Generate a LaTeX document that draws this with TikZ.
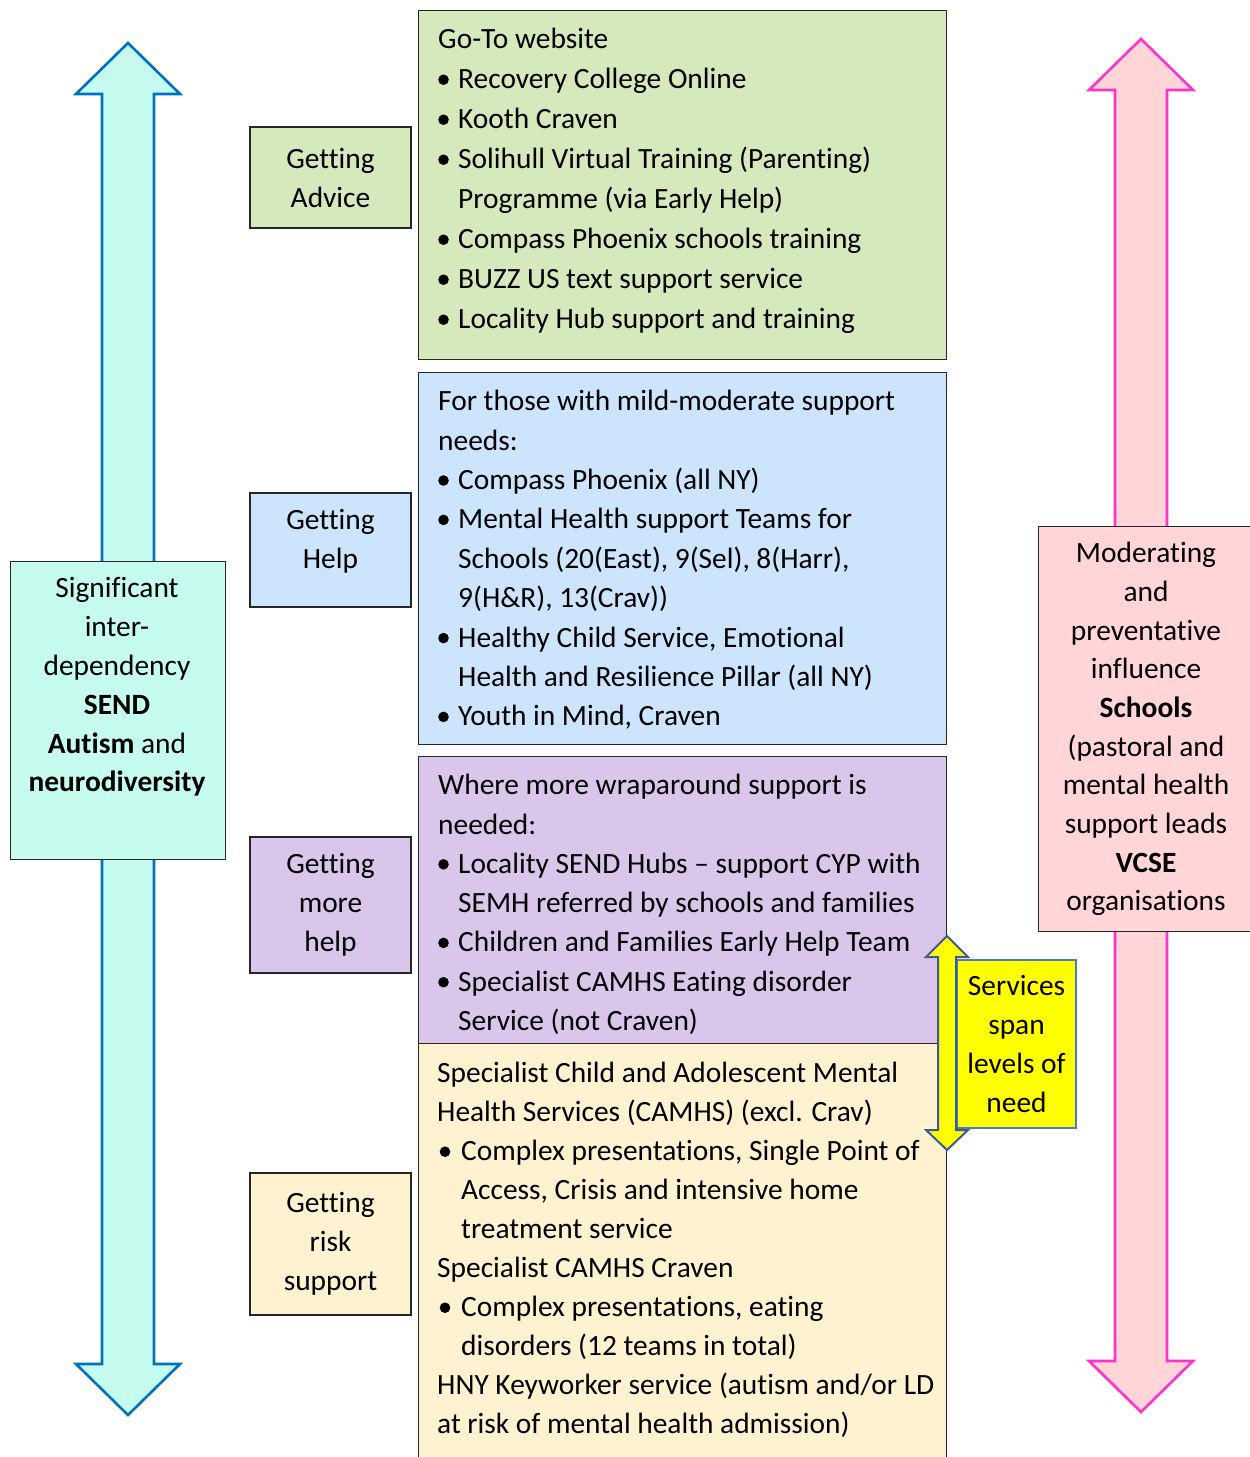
\documentclass[tikz,border=0pt]{standalone}
\usepackage{fontspec}
\setmainfont{Carlito}[Ligatures=NoCommon]
\definecolor{tealfill}{HTML}{C5FCEF}
\definecolor{tealline}{HTML}{0070C0}
\definecolor{pinkfill}{HTML}{FFD5D8}
\definecolor{pinkline}{HTML}{FF33CC}
\definecolor{greenfill}{HTML}{D5E9BC}
\definecolor{bluefill}{HTML}{CCE5FC}
\definecolor{purplefill}{HTML}{DAC6EA}
\definecolor{creamfill}{HTML}{FFF2D0}
\definecolor{yelfill}{HTML}{FFFF00}
\definecolor{yelline}{HTML}{3A5A9A}
\definecolor{svcline}{HTML}{4A7CC4}
\newcommand\bdot{\tikz[baseline=0pt,x=1pt,y=1pt]\fill[black] (5.3,9) circle (5.3);}
\newcommand\itm{\makebox[20pt][l]{\bdot}}
\newcommand\hng{\hspace*{20pt}}
\newcommand\itmc{\makebox[24pt][l]{\hspace*{2.5pt}\bdot}}
\newcommand\hngc{\hspace*{24pt}}
\newcommand\firstline{\rule{0pt}{30pt}}
\begin{document}
\begin{tikzpicture}[x=1pt,y=-1pt,
  mainbox/.style={draw=black!85, line width=1.3pt, anchor=north west, inner sep=0},
  sidebox/.style={draw=black!85, line width=1.3pt, align=center, inner sep=0,
    font=\fontsize{29.4}{39}\selectfont},
  bodytext/.style={anchor=north west, align=left, inner sep=0},
  bigarrow/.style={line width=2.6pt, line join=miter}
]
\useasboundingbox (0,0) rectangle (1250,1457);

% left double arrow
\draw[bigarrow, draw=tealline, fill=tealfill]
  (128,43) -- (180,94) -- (154,94) -- (154,1364) -- (180,1364) -- (128,1415)
  -- (76,1364) -- (102,1364) -- (102,94) -- (76,94) -- cycle;
% right double arrow
\draw[bigarrow, draw=pinkline, fill=pinkfill]
  (1141,39) -- (1193,90) -- (1167,90) -- (1167,1361) -- (1193,1361) -- (1141,1412)
  -- (1089,1361) -- (1115,1361) -- (1115,90) -- (1089,90) -- cycle;

% left teal box
\node[mainbox, fill=tealfill, minimum width=215, minimum height=298] (teal) at (10,561) {};
\node[align=center, inner sep=0, font=\fontsize{29.4}{38.8}\selectfont] (tealtxt) at (117,687)
  {Significant\\inter-\\dependency\\\textbf{SEND}\\\textbf{Autism} and\\\textbf{neurodiversity}};

% right pink box
\node[mainbox, fill=pinkfill, minimum width=214, minimum height=405] (pink) at (1038,526) {};
\node[align=center, inner sep=0, font=\fontsize{29.4}{38.67}\selectfont] (pinktxt) at (1146,729)
  {Moderating\\and\\preventative\\influence\\\textbf{Schools}\\(pastoral and\\mental health\\support leads\\\textbf{VCSE}\\organisations};

% main boxes
\node[mainbox, fill=greenfill, minimum width=528, minimum height=349] (green) at (418,10) {};
\node[mainbox, fill=bluefill, minimum width=528, minimum height=372] (blue) at (418,372) {};
\node[mainbox, fill=purplefill, minimum width=528, minimum height=287] (purple) at (418,756) {};
\node[mainbox, fill=creamfill, minimum width=528, minimum height=430] (cream) at (418,1043) {};

\node[bodytext, font=\fontsize{29.4}{40}\selectfont] (greentxt) at (438,18.5) {\firstline Go-To website\\
\itm Recovery College Online\\
\itm Kooth Craven\\
\itm Solihull Virtual Training (Parenting)\\
\hng Programme (via Early Help)\\
\itm Compass Phoenix schools training\\
\itm BUZZ US text support service\\
\itm Locality Hub support and training};

\node[bodytext, font=\fontsize{29.4}{39.4}\selectfont] (bluetxt) at (438,380.5) {\firstline For those with mild-moderate support\\
needs:\\
\itm Compass Phoenix (all NY)\\
\itm Mental Health support Teams for\\
\hng Schools (20(East), 9(Sel), 8(Harr),\\
\hng 9(H\&R), 13(Crav))\\
\itm Healthy Child Service, Emotional\\
\hng Health and Resilience Pillar (all NY)\\
\itm Youth in Mind, Craven};

\node[bodytext, font=\fontsize{29.4}{39.3}\selectfont] (purpletxt) at (438,764.5) {\firstline Where more wraparound support is\\
needed:\\
\itm Locality SEND Hubs – support CYP with\\
\hng SEMH referred by schools and families\\
\itm Children and Families Early Help Team\\
\itm Specialist CAMHS Eating disorder\\
\hng Service (not Craven)};

\node[bodytext, font=\fontsize{29.4}{39}\selectfont] (creamtxt) at (437,1052.5) {\firstline Specialist Child and Adolescent Mental\\
Health Services (CAMHS) (excl. Crav)\\
\itmc Complex presentations, Single Point of\\
\hngc Access, Crisis and intensive home\\
\hngc treatment service\\
Specialist CAMHS Craven\\
\itmc Complex presentations, eating\\
\hngc disorders (12 teams in total)\\
HNY Keyworker service (autism and/or LD\\
at risk of mental health admission)};

% side label boxes
\node[sidebox, fill=greenfill, minimum width=161, minimum height=101] (advice) at (330.5,177.5) {Getting\\Advice};
\node[sidebox, fill=bluefill, minimum width=161, minimum height=114] (help) at (330.5,550) {};
\node[align=center, inner sep=0, font=\fontsize{29.4}{39}\selectfont] (helptxt) at (330.5,541) {Getting\\Help};
\node[sidebox, fill=purplefill, minimum width=161, minimum height=136] (more) at (330.5,905) {Getting\\more\\help};
\node[sidebox, fill=creamfill, minimum width=161, minimum height=142] (risk) at (330.5,1244) {Getting\\risk\\support};

% services span box
\node[draw=svcline, line width=1.2pt, fill=yelfill, align=center, inner sep=0,
  minimum width=119, minimum height=168, font=\fontsize{29.4}{38.7}\selectfont] (span) at (1016.5,1044)
  {Services\\span\\levels of\\need};

% yellow double arrow
\draw[line width=2pt, draw=yelline, fill=yelfill, line join=miter]
  (947,936) -- (968,957) -- (956,957) -- (956,1130) -- (968,1130) -- (947,1150)
  -- (926,1130) -- (938,1130) -- (938,957) -- (926,957) -- cycle;
\end{tikzpicture}
\end{document}
